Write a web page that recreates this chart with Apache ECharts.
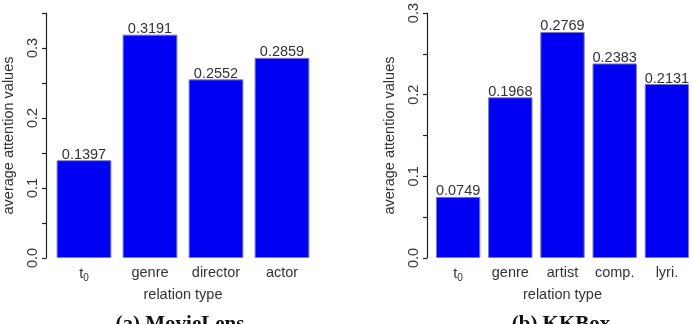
<!DOCTYPE html>
<html>
<head>
<meta charset="utf-8">
<script src="https://cdn.jsdelivr.net/npm/echarts@6/dist/echarts.min.js"></script>
<style>
  html, body { margin: 0; padding: 0; background: #fff; }
  #chart { width: 693px; height: 324px; }
</style>
</head>
<body>
<div id="chart"></div>
<script>
// MovieLens panel
const ml_cats = ['t0', 'genre', 'director', 'actor']
const ml_vals = [0.1397, 0.3191, 0.2552, 0.2859]
// KKBox panel
const kk_cats = ['t0', 'genre', 'artist', 'comp.', 'lyri.']
const kk_vals = [0.0749, 0.1968, 0.2769, 0.2383, 0.2131]

const font = 'Liberation Sans, Arial, sans-serif'
const txt = '#333'
const fs = 14.5

const my_echart = echarts.init(document.getElementById('chart'), null, {renderer: 'canvas'})

function catLabel(v) {
  if (v === 't0') return '{m|t}{s|0}'
  return v
}

function yAxisOf(idx, max) {
  return {
    type: 'value',
    gridIndex: idx,
    min: 0,
    max: max,
    interval: 0.05,
    offset: 5,
    name: 'average attention values',
    nameLocation: 'middle',
    nameRotate: 90,
    nameGap: 30,
    nameTextStyle: {fontFamily: font, fontSize: fs, color: txt},
    axisLine: {show: true, lineStyle: {color: '#222', width: 1.2}},
    axisTick: {show: true, length: 4, lineStyle: {color: '#222', width: 1.2}},
    splitLine: {show: false},
    axisLabel: {
      rotate: 90,
      margin: 6,
      fontFamily: font,
      fontSize: fs,
      color: txt,
      formatter: function (v) {
        const k = Math.round(v * 100)
        return k % 10 === 0 ? (k / 100).toFixed(1) : ''
      }
    }
  }
}

function xAxisOf(idx, cats) {
  return {
    type: 'category',
    gridIndex: idx,
    data: cats,
    name: 'relation type',
    nameLocation: 'middle',
    nameGap: 25,
    nameTextStyle: {fontFamily: font, fontSize: fs, color: txt},
    axisLine: {show: false},
    axisTick: {show: false},
    axisLabel: {
      interval: 0,
      margin: 7,
      fontFamily: font,
      fontSize: fs,
      color: txt,
      formatter: catLabel,
      rich: {
        m: {fontFamily: font, fontSize: fs, color: txt},
        s: {fontFamily: font, fontSize: 10, color: txt, padding: [8, 0, 0, 0]}
      }
    }
  }
}

function barsOf(idx, vals, gap) {
  return {
    type: 'bar',
    xAxisIndex: idx,
    yAxisIndex: idx,
    data: vals,
    barCategoryGap: gap,
    itemStyle: {color: '#0000f2', borderColor: '#7a7ac8', borderWidth: 1},
    label: {
      show: true,
      position: 'top',
      distance: -2,
      fontFamily: font,
      fontSize: fs,
      color: txt,
      formatter: function (p) { return p.value.toFixed(4) }
    }
  }
}

my_echart.setOption({
  animation: false,
  grid: [
    {left: 51, top: 13, width: 264, height: 245},
    {left: 432, top: 13, width: 261, height: 245}
  ],
  xAxis: [xAxisOf(0, ml_cats), xAxisOf(1, kk_cats)],
  yAxis: [yAxisOf(0, 0.35), yAxisOf(1, 0.3)],
  series: [barsOf(0, ml_vals, '17%'), barsOf(1, kk_vals, '15%')],
  graphic: [
    {type: 'text', x: 180, y: 314, style: {text: '(a) MovieLens', align: 'center',
      font: 'bold 21px "Liberation Serif", "DejaVu Serif", serif', fill: '#111'}},
    {type: 'text', x: 561, y: 314, style: {text: '(b) KKBox', align: 'center',
      font: 'bold 21px "Liberation Serif", "DejaVu Serif", serif', fill: '#111'}}
  ]
})
</script>
</body>
</html>
